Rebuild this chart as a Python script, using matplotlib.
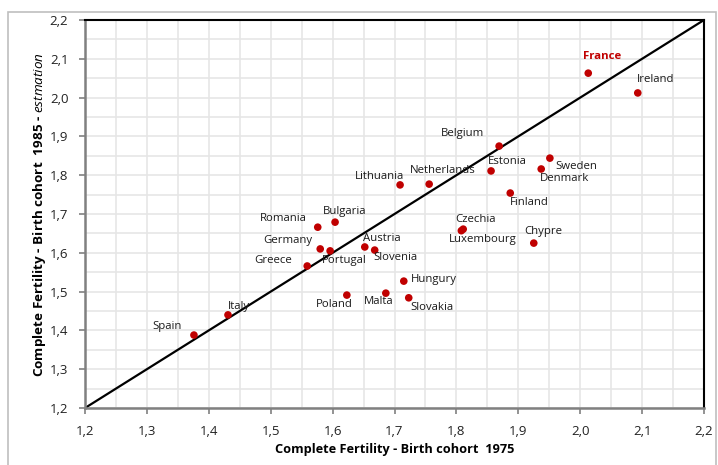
import numpy as np
import matplotlib.pyplot as plt
from matplotlib.patches import Rectangle
from matplotlib.ticker import MultipleLocator, FuncFormatter

plt.rcParams['font.family'] = ['Open Sans', 'DejaVu Sans']
plt.rcParams['mathtext.fontset'] = 'custom'
plt.rcParams['mathtext.it'] = 'Open Sans:italic'
plt.rcParams['mathtext.rm'] = 'Open Sans'

countries = ['Spain', 'Italy', 'Greece', 'Romania', 'Bulgaria', 'Germany', 'Portugal',
             'Austria', 'Slovenia', 'Lithuania', 'Netherlands', 'Belgium', 'Estonia',
             'Czechia', 'Luxembourg', 'Hungury', 'Poland', 'Malta', 'Slovakia',
             'Finland', 'Chypre', 'France', 'Ireland', 'Sweden', 'Denmark']
cohort_1975 = [1.376, 1.431, 1.559, 1.576, 1.604, 1.580, 1.596,
               1.652, 1.668, 1.709, 1.756, 1.869, 1.856,
               1.811, 1.808, 1.715, 1.623, 1.686, 1.723,
               1.887, 1.925, 2.013, 2.093, 1.951, 1.937]
cohort_1985 = [1.388, 1.440, 1.566, 1.666, 1.679, 1.610, 1.605,
               1.615, 1.607, 1.775, 1.777, 1.875, 1.811,
               1.661, 1.657, 1.527, 1.491, 1.496, 1.484,
               1.754, 1.625, 2.063, 2.012, 1.844, 1.816]

# label offsets in points (dx, dy, horizontal alignment)
label_pos = {
    'Spain': (-9, 6, 'right'), 'Italy': (0, 6, 'left'), 'Greece': (-11, 4, 'right'),
    'Romania': (-8, 6, 'right'), 'Bulgaria': (-9, 8, 'left'), 'Germany': (-6, 6, 'right'),
    'Portugal': (-6, -7, 'left'), 'Austria': (-1, 6, 'left'), 'Slovenia': (-1, -5, 'left'),
    'Lithuania': (3, 6, 'right'), 'Netherlands': (-14, 10, 'left'), 'Belgium': (-11, 9, 'right'),
    'Estonia': (-2, 7, 'left'), 'Czechia': (-6, 7, 'left'), 'Luxembourg': (-9, -6, 'left'),
    'Hungury': (5, 1, 'left'), 'Poland': (4, -7, 'right'), 'Malta': (-16, -6, 'left'),
    'Slovakia': (1, -7, 'left'), 'Finland': (0, -7, 'left'), 'Chypre': (-7, 8, 'left'),
    'France': (-4, 12, 'left'), 'Ireland': (-1, 10, 'left'), 'Sweden': (4, -6, 'left'),
    'Denmark': (-1, -7, 'left'),
}

fig = plt.figure(figsize=(7.18, 4.65), dpi=100)
ax = fig.add_axes([85 / 718, 57 / 465, 619 / 718, 388 / 465])

ax.set_xlim(1.2, 2.2)
ax.set_ylim(1.2, 2.2)
ax.xaxis.set_major_locator(MultipleLocator(0.1))
ax.yaxis.set_major_locator(MultipleLocator(0.1))
ax.xaxis.set_minor_locator(MultipleLocator(0.05))
ax.yaxis.set_minor_locator(MultipleLocator(0.05))
fmt = FuncFormatter(lambda v, p: f'{v:.1f}'.replace('.', ','))
ax.xaxis.set_major_formatter(fmt)
ax.yaxis.set_major_formatter(fmt)
ax.grid(True, which='both', color='#e6e6e6', lw=1.2, zorder=0)
ax.set_axisbelow(True)
ax.tick_params(which='major', direction='out', length=4, width=1.2, color='#808080',
               labelsize=9.5, labelcolor='#222222', pad=8)
ax.tick_params(which='minor', length=0)

for s in ['left', 'bottom']:
    ax.spines[s].set_color('#808080')
    ax.spines[s].set_linewidth(1.8)
for s in ['top', 'right']:
    ax.spines[s].set_color('black')
    ax.spines[s].set_linewidth(1.5)

ax.plot([1.2, 2.2], [1.2, 2.2], color='black', lw=1.6, zorder=2)
ax.scatter(cohort_1975, cohort_1985, s=30, color='#c00000', zorder=3, edgecolors='none')

for name, x, y in zip(countries, cohort_1975, cohort_1985):
    dx, dy, ha = label_pos[name]
    if name == 'France':
        ax.annotate(name, (x, y), xytext=(dx, dy), textcoords='offset points', ha=ha,
                    va='center', fontsize=8.2, color='#c00000', fontweight='bold')
    else:
        ax.annotate(name, (x, y), xytext=(dx, dy), textcoords='offset points', ha=ha,
                    va='center', fontsize=8.2, color='#1a1a1a')

ax.set_xlabel('Complete Fertility - Birth cohort  1975', fontsize=9.2, fontweight='bold', labelpad=4)
ax.set_ylabel('Complete Fertility - Birth cohort  1985 - $\\mathit{estmation}$',
              fontsize=9.7, fontweight='bold', labelpad=1)

fig.patches.append(Rectangle((8 / 718, -0.01), 708 / 718, 458 / 465, transform=fig.transFigure,
                             fill=False, edgecolor='#bfbfbf', lw=1.2))

fig.savefig('out.png', dpi=100)
